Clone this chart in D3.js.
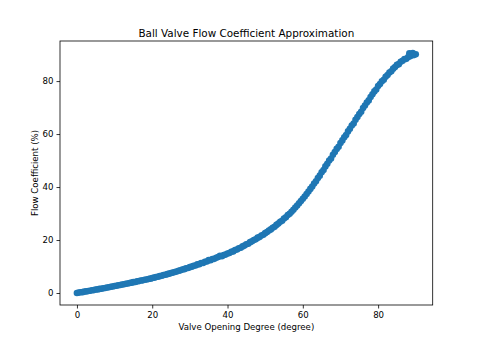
<!DOCTYPE html>
<html><head><meta charset="utf-8">
<script src="https://cdn.jsdelivr.net/npm/d3@7"></script>
<style>body{margin:0;background:#fff}svg{display:block}text{font-family:"DejaVu Sans",sans-serif;fill:#000}</style>
</head><body><div id="chart"></div>
<script>
const openingDeg = [0,0.5,1,1.5,2,2.5,3,3.5,4,4.5,5,5.5,6,6.5,7,7.5,8,8.5,9,9.5,10,10.5,11,11.5,12,12.5,13,13.5,14,14.5,15,15.5,16,16.5,17,17.5,18,18.5,19,19.5,20,20.5,21,21.5,22,22.5,23,23.5,24,24.5,25,25.5,26,26.5,27,27.5,28,28.5,29,29.5,30,30.5,31,31.5,32,32.5,33,33.5,34,34.5,35,35.5,36,36.5,37,37.5,38,38.5,39,39.5,40,40.5,41,41.5,42,42.5,43,43.5,44,44.5,45,45.5,46,46.5,47,47.5,48,48.5,49,49.5,50,50.5,51,51.5,52,52.5,53,53.5,54,54.5,55,55.5,56,56.5,57,57.5,58,58.5,59,59.5,60,60.5,61,61.5,62,62.5,63,63.5,64,64.5,65,65.5,66,66.5,67,67.5,68,68.5,69,69.5,70,70.5,71,71.5,72,72.5,73,73.5,74,74.5,75,75.5,76,76.5,77,77.5,78,78.5,79,79.5,80,80.5,81,81.5,82,82.5,83,83.5,84,84.5,85,85.5,86,86.5,87,87.5,88,88.5,89,89.5,90,88.3,89.2];
const flowCoef = [0.0,0.15,0.28,0.33,0.52,0.6,0.78,0.85,1.02,1.1,1.3,1.35,1.55,1.62,1.8,1.9,2.1,2.15,2.35,2.45,2.62,2.72,2.9,3.0,3.2,3.3,3.5,3.58,3.78,3.9,4.1,4.18,4.4,4.5,4.7,4.78,5.0,5.1,5.3,5.42,5.62,5.8,6.0,6.12,6.36,6.5,6.75,6.88,7.12,7.3,7.55,7.7,7.95,8.1,8.4,8.55,8.85,9.0,9.3,9.45,9.75,9.95,10.25,10.4,10.8,10.9,11.3,11.3,11.75,11.9,12.4,12.4,12.8,12.9,13.3,13.6,14.0,13.9,14.3,14.5,14.9,15.1,15.6,15.7,16.2,16.4,16.9,17.1,17.6,17.9,18.4,18.6,19.2,19.5,20.0,20.3,20.9,21.1,21.7,22.0,22.6,23.0,23.6,24.0,24.6,25.0,25.7,26.2,26.9,27.3,28.1,28.6,29.4,29.9,30.7,31.4,32.3,33.0,33.9,34.7,35.6,36.4,37.4,38.3,39.3,40.2,41.3,42.2,43.4,44.3,45.6,46.4,47.8,48.8,50.0,50.8,52.2,53.2,54.4,55.2,56.6,57.6,58.8,59.6,61.0,62.0,63.2,64.0,65.4,66.4,67.6,68.4,69.8,70.8,71.9,72.7,74.0,75.0,76.1,76.8,78.1,78.9,79.9,80.5,81.6,82.3,83.2,83.7,84.7,85.3,86.1,86.4,87.3,87.7,88.3,88.4,89.1,89.4,89.8,89.8,90.1,90.5,90.6];
const xTicks = [0,20,40,60,80];
const yTicks = [0,20,40,60,80];
const titleText = "Ball Valve Flow Coefficient Approximation";
const xLabel = "Valve Opening Degree (degree)";
const yLabel = "Flow Coefficient (%)";

const W = 480, H = 343;
const m = {left:60, right:432.7, top:41, bottom:305};
const svg = d3.select("#chart").append("svg").attr("width",W).attr("height",H);

const xMin = d3.min(openingDeg), xMax = d3.max(openingDeg);
const yMin = d3.min(flowCoef), yMax = d3.max(flowCoef);
const xp = (xMax-xMin)*0.05, yp = (yMax-yMin)*0.05;
const x = d3.scaleLinear().domain([xMin-xp, xMax+xp]).range([m.left, m.right]);
const y = d3.scaleLinear().domain([yMin-yp, yMax+yp]).range([m.bottom, m.top]);

const pts = openingDeg.map((d,i)=>({x:d,y:flowCoef[i]}));
svg.append("g").selectAll("circle").data(pts).join("circle")
  .attr("cx",d=>x(d.x)).attr("cy",d=>y(d.y)).attr("r",3.3)
  .attr("fill","#1f77b4");

svg.append("rect").attr("x",m.left).attr("y",m.top)
  .attr("width",m.right-m.left).attr("height",m.bottom-m.top)
  .attr("fill","none").attr("stroke","#000").attr("stroke-width",0.8);

const xa = svg.append("g").attr("transform",`translate(0,${m.bottom})`)
  .call(d3.axisBottom(x).tickValues(xTicks).tickSize(3.5).tickPadding(3).tickFormat(d3.format("d")));
const ya = svg.append("g").attr("transform",`translate(${m.left},0)`)
  .call(d3.axisLeft(y).tickValues(yTicks).tickSize(3.5).tickPadding(3).tickFormat(d3.format("d")));
[xa,ya].forEach(g=>{
  g.select(".domain").remove();
  g.selectAll("line").attr("stroke","#000").attr("stroke-width",0.8);
  g.selectAll("text").style("font-family","DejaVu Sans").style("font-size","8.6px").attr("fill","#000");
});

svg.append("text").attr("x",(m.left+m.right)/2).attr("y",37).attr("text-anchor","middle")
  .style("font-size","10.4px").text(titleText);
svg.append("text").attr("x",(m.left+m.right)/2).attr("y",330).attr("text-anchor","middle")
  .style("font-size","8.6px").text(xLabel);
svg.append("text").attr("transform",`translate(38,${(m.top+m.bottom)/2}) rotate(-90)`).attr("text-anchor","middle")
  .style("font-size","8.6px").text(yLabel);
</script></body></html>
